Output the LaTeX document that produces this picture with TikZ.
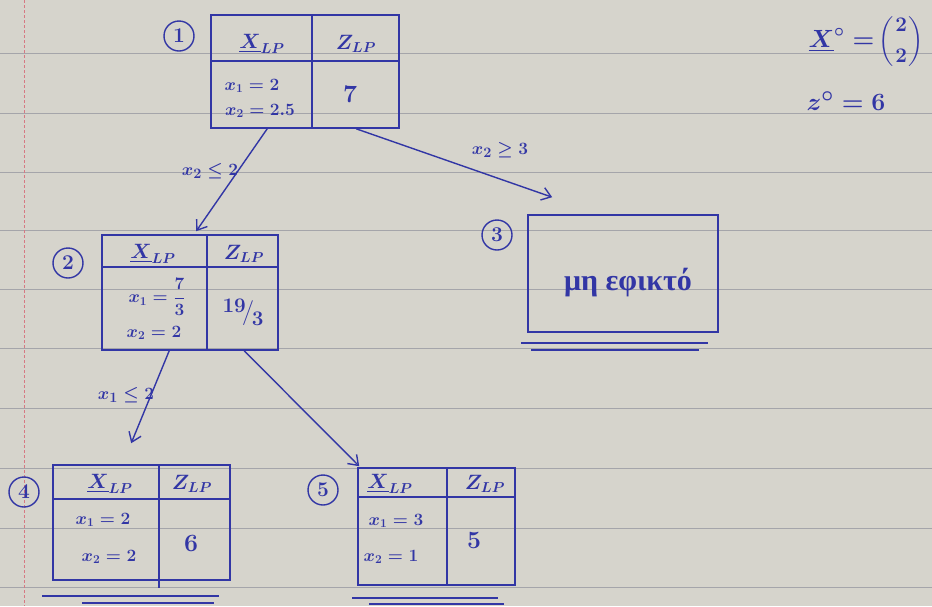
\documentclass[tikz,border=0pt]{standalone}
\usepackage{amsmath}
\usepackage{fontspec}
\newfontfamily\grk{Liberation Serif}
\usetikzlibrary{arrows.meta,calc}
\definecolor{paper}{RGB}{214,212,204}
\definecolor{rulec}{RGB}{165,165,170}
\definecolor{marginc}{RGB}{215,120,130}
\definecolor{ink}{RGB}{50,54,165}
\begin{document}
\begin{tikzpicture}[x=1pt,y=-1pt,
  tbl/.style={draw=ink, line width=1.6pt, rectangle, inner sep=0pt},
  sep/.style={draw=ink, line width=1.5pt},
  arr/.style={draw=ink, line width=1.4pt, -{Straight Barb[length=9pt,width=13pt,line width=1.4pt]}},
  num/.style={draw=ink, circle, line width=1.4pt, minimum size=30pt, inner sep=0pt, text=ink, font=\fontsize{21}{21}\selectfont\bfseries},
  txt/.style={text=ink, inner sep=0pt, font=\fontsize{17}{17}\selectfont\boldmath},
  head/.style={text=ink, inner sep=0pt, font=\fontsize{22}{22}\selectfont\boldmath},
  big/.style={text=ink, inner sep=0pt, font=\fontsize{32}{32}\selectfont\boldmath},
  lbl/.style={text=ink, inner sep=0pt, font=\fontsize{19}{19}\selectfont\boldmath},
  uline/.style={draw=ink, line width=1.6pt}]
\fill[paper] (0,0) rectangle (932,606);
\useasboundingbox (0,0) rectangle (932,606);
\foreach \y in {53,113,172,230,289,348,408,468,528,587}
  \draw[rulec, line width=0.8pt] (0,\y) -- (932,\y);
\draw[marginc, line width=0.8pt, dash pattern=on 3pt off 2pt] (24,0) -- (24,606);

% ---------- node 1
\node[tbl, minimum width=188pt, minimum height=113pt] (n1) at (305,71.5) {};
\draw[sep] ($(n1.north west)+(102,0)$) -- ($(n1.south west)+(102,0)$);
\draw[sep] ($(n1.north west)+(0,47)$) -- ($(n1.north east)+(0,47)$);
\node[head] (h1x) at (262,44) {$\underline{X}_{LP}$};
\node[head] (h1z) at (356,44) {$Z_{LP}$};
\node[txt] (b1a) at (252,86) {$x_1=2$};
\node[txt] (b1b) at (260,111) {$x_2=2.5$};
\node[big] (v1) at (350,94) {$7$};
\node[num] (c1) at (179,36) {1};

% ---------- node 2
\node[tbl, minimum width=176pt, minimum height=115pt] (n2) at (190,292.5) {};
\draw[sep] ($(n2.north west)+(106,0)$) -- ($(n2.south west)+(106,0)$);
\draw[sep] ($(n2.north west)+(0,33)$) -- ($(n2.north east)+(0,33)$);
\node[head] (h2x) at (153,254) {$\underline{X}_{LP}$};
\node[head] (h2z) at (244,254) {$Z_{LP}$};
\node[txt] (b2a) at (157,297) {$x_1=\dfrac{7}{3}$};
\node[txt] (b2b) at (154,333) {$x_2=2$};
\node[text=ink, inner sep=0pt, font=\fontsize{21}{21}\selectfont\boldmath] (v2) at (243,312) {\raisebox{6pt}{$19$}\kern-3pt$\big/$\kern-3pt\raisebox{-7pt}{$3$}};
\node[num] (c2) at (68,263) {2};

% ---------- node 3
\node[tbl, minimum width=190pt, minimum height=117pt] (n3) at (623,273.5) {};
\node[text=ink, inner sep=0pt, font=\grk\fontsize{30}{30}\selectfont\bfseries] (t3) at (628,283) {μη εφικτό};
\draw[uline] ($(n3.south west)+(-6,10)$) -- ($(n3.south east)+(-11,10)$);
\draw[uline] ($(n3.south west)+(4,17)$) -- ($(n3.south east)+(-20,17)$);
\node[num] (c3) at (497,235) {3};

% ---------- node 4
\node[tbl, minimum width=177pt, minimum height=115pt] (n4) at (141.5,522.5) {};
\draw[sep] ($(n4.north west)+(107,0)$) -- ($(n4.south west)+(107,7)$);
\draw[sep] ($(n4.north west)+(0,35)$) -- ($(n4.north east)+(0,35)$);
\node[head] (h4x) at (110,484) {$\underline{X}_{LP}$};
\node[head] (h4z) at (192,484) {$Z_{LP}$};
\node[txt] (b4a) at (103,520) {$x_1=2$};
\node[txt] (b4b) at (109,557) {$x_2=2$};
\node[big] (v4) at (191,543) {$6$};
\draw[uline] ($(n4.south west)+(-10,15)$) -- ($(n4.south east)+(-12,15)$);
\draw[uline] ($(n4.south west)+(30,22)$) -- ($(n4.south east)+(-17,22)$);
\node[num] (c4) at (24,492) {4};

% ---------- node 5
\node[tbl, minimum width=157pt, minimum height=117pt] (n5) at (436.5,526.5) {};
\draw[sep] ($(n5.north west)+(90,0)$) -- ($(n5.south west)+(90,0)$);
\draw[sep] ($(n5.north west)+(0,30)$) -- ($(n5.north east)+(0,30)$);
\node[head] (h5x) at (390,484) {$\underline{X}_{LP}$};
\node[head] (h5z) at (485,484) {$Z_{LP}$};
\node[txt] (b5a) at (396,521) {$x_1=3$};
\node[txt] (b5b) at (391,557) {$x_2=1$};
\node[big] (v5) at (474,540) {$5$};
\draw[uline] ($(n5.south west)+(-5,12)$) -- ($(n5.south east)+(-18,12)$);
\draw[uline] ($(n5.south west)+(12,18)$) -- ($(n5.south east)+(-12,18)$);
\node[num] (c5) at (323,490) {5};

% ---------- connectors
\draw[arr] ($(n1.south west)+(57,0)$) -- ($(n2.north west)+(95,-3)$);
\draw[arr] ($(n1.south west)+(146,0)$) -- ($(n3.north west)+(25,-17)$);
\draw[arr] ($(n2.south west)+(68,0)$) -- ($(n4.north west)+(79,-21)$);
\draw[arr] ($(n2.south west)+(143,0)$) -- ($(n5.north west)+(2,-1)$);
\node[lbl] (l12) at (210,171) {$x_2\leq 2$};
\node[lbl] (l13) at (500,150) {$x_2\geq 3$};
\node[lbl] (l24) at (126,395) {$x_1\leq 2$};

% ---------- optimum
\node[text=ink, inner sep=0pt, font=\fontsize{27}{27}\selectfont\boldmath] (xo) at (866,42) {$\underline{X}^{\circ}=$\,{\fontsize{20}{20}\selectfont\boldmath$\left(\genfrac{}{}{0pt}{0}{2}{2}\right)$}};
\node[text=ink, inner sep=0pt, font=\fontsize{28}{28}\selectfont\boldmath] (zo) at (846,101) {$z^{\circ}=6$};
\end{tikzpicture}
\end{document}
